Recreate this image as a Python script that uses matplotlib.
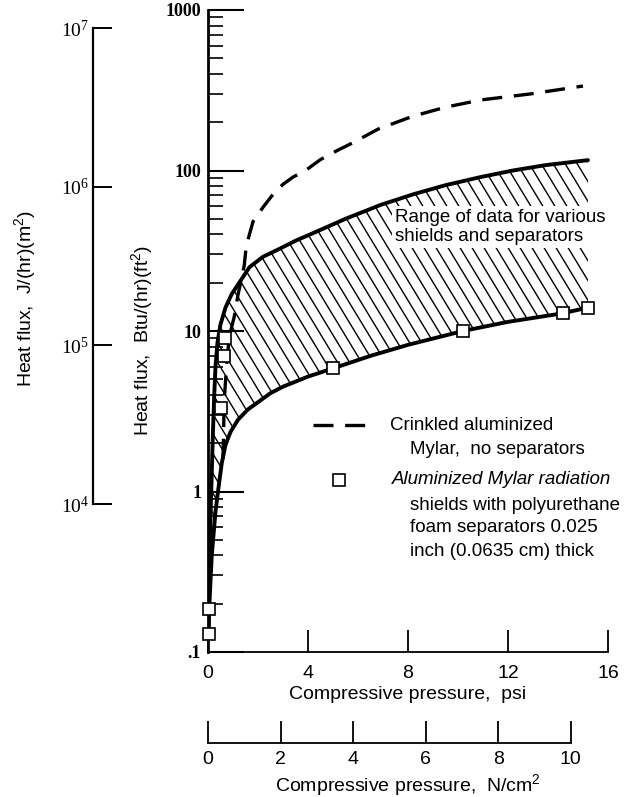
import numpy as np
import matplotlib
matplotlib.use("Agg")
import matplotlib.pyplot as plt
from matplotlib.lines import Line2D

plt.rcParams['font.family'] = ['Liberation Sans Narrow', 'Liberation Sans', 'DejaVu Sans']

# upper edge of the hatched band (psi, Btu/(hr)(ft2))
upper_psi = [0.02, 0.05, 0.1, 0.15, 0.2, 0.25, 0.3, 0.38, 0.5, 0.7, 0.95, 1.25, 1.66, 2.2, 2.86,
             3.5, 4.2, 5.5, 6.9, 8.2, 9.5, 10.9, 12.2, 13.5, 15.2]
upper_flux = [0.13, 0.3, 0.7, 1.3, 2.4, 4.0, 6.0, 8.5, 11.0, 14.0, 17.0, 20.0, 25.0, 29.0, 32.5,
              36.5, 40.7, 50.0, 61.0, 71.0, 81.0, 91.0, 100.0, 108.0, 116.0]

# lower edge of the hatched band
lower_psi = [0.02, 0.05, 0.15, 0.3, 0.4, 0.55, 0.7, 0.9, 1.2, 1.6, 2.0, 2.5, 3.0, 4.0, 5.0,
             6.5, 8.0, 10.2, 12.0, 14.2, 15.2]
lower_flux = [0.13, 0.19, 0.4, 0.75, 1.0, 1.5, 1.95, 2.35, 2.8, 3.25, 3.6, 4.1, 4.5, 5.2, 5.85,
              7.0, 8.2, 10.0, 11.4, 12.9, 14.0]

# crinkled aluminized Mylar, no separators (dashed)
crinkled_psi = [0.6, 0.65, 0.75, 0.85, 1.05, 1.2, 1.45, 1.53, 1.8, 2.2, 2.6, 3.0, 3.4, 3.9,
                4.5, 5.2, 5.8, 6.8, 8.2, 9.5, 10.9, 12.9, 15.0]
crinkled_flux = [1.6, 3.7, 6.3, 9.2, 12.3, 16.8, 25.6, 33.9, 48.0, 59.0, 71.0, 82.0, 91.0, 100.0,
                 117.0, 134.0, 149.0, 181.0, 218.0, 248.0, 275.0, 300.0, 336.0]

# aluminized Mylar shields with polyurethane foam separators (squares)
foam_psi = [0.02, 0.05, 0.52, 0.64, 0.68, 5.0, 10.2, 14.2, 15.2]
foam_flux = [0.13, 0.186, 3.3, 7.0, 9.1, 5.85, 10.0, 12.9, 14.0]

psi_ticks = [0, 4, 8, 12, 16]
ncm_ticks = [0, 2, 4, 6, 8, 10]
btu_ticks = [0.1, 1, 10, 100, 1000]
btu_labels = ['.1', '1', '10', '100', '1000']
j_ticks = [1e4, 1e5, 1e6, 1e7]
j_labels = [r'$\mathregular{10^4}$', r'$\mathregular{10^5}$', r'$\mathregular{10^6}$', r'$\mathregular{10^7}$']

PSI_TO_NCM = 0.689476  # N/cm2 per psi

W, H = 632, 797
fig = plt.figure(figsize=(W / 100, H / 100), dpi=100)


def fx(px):
    return px / W


def fy(py):
    return 1 - py / H


ax_l, ax_r, ax_t, ax_b = 208, 608, 10, 652
ax = fig.add_axes([fx(ax_l), fy(ax_b), (ax_r - ax_l) / W, (ax_b - ax_t) / H])
ax.set_yscale('log')
ax.set_xlim(0, 16)
ax.set_ylim(0.1, 1000)

# hatched band
band_x = np.r_[upper_psi, lower_psi[::-1]]
band_y = np.r_[upper_flux, lower_flux[::-1]]
band = ax.fill(band_x, band_y, facecolor='none', edgecolor='none')[0]
drop = (ax_b - ax_t) / 1.65 / (ax_r - ax_l)
for x0 in np.arange(-1.2, 1.05, 0.03):
    hl = ax.plot([x0, x0 + drop], [1, 0], transform=ax.transAxes, color='black', lw=1.0)[0]
    hl.set_clip_path(band)

ax.plot(upper_psi, upper_flux, color='black', lw=2.8, solid_capstyle='round')
ax.plot(lower_psi, lower_flux, color='black', lw=2.8, solid_capstyle='round')
ax.plot(crinkled_psi, crinkled_flux, color='black', lw=2.4, dashes=(6, 3.5))
ax.plot(foam_psi, foam_flux, ls='none', marker='s', ms=9, mfc='white', mec='black', mew=1.2,
        clip_on=False, zorder=5)

ax.text(fx(395), fy(227), 'Range of data for various\nshields and separators',
        transform=fig.transFigure, fontsize=13.5, va='center', ha='left', linespacing=1.2,
        bbox=dict(facecolor='white', edgecolor='none', pad=2), zorder=6)

for s in ['top', 'right']:
    ax.spines[s].set_visible(False)
ax.spines['left'].set_linewidth(2.0)
ax.spines['bottom'].set_linewidth(1.3)

ax.set_xticks(psi_ticks)
ax.set_xticklabels([str(t) for t in psi_ticks])
ax.tick_params(axis='x', direction='in', length=16, width=1.3, pad=9, labelsize=14)
ax.set_yticks(btu_ticks)
ax.set_yticklabels(btu_labels, fontfamily='Liberation Serif', fontweight='bold')
ax.tick_params(axis='y', which='major', direction='in', length=26, width=1.5, pad=5, labelsize=13)
ax.tick_params(axis='y', which='minor', direction='in', length=11, width=1.2)
ax.set_xlabel('Compressive pressure,  psi', fontsize=14, labelpad=3)

# second pressure scale, N/cm2
axn = fig.add_axes([fx(ax_l), fy(743), (ax_r - ax_l) / W, 0.02])
axn.set_xlim(0, 16 * PSI_TO_NCM)
axn.set_ylim(0, 1)
for s in ['top', 'right', 'left']:
    axn.spines[s].set_visible(False)
axn.spines['bottom'].set_bounds(0, 10)
axn.spines['bottom'].set_linewidth(1.3)
axn.set_yticks([])
axn.set_xticks(ncm_ticks)
axn.set_xticklabels([str(t) for t in ncm_ticks])
axn.tick_params(axis='x', direction='in', length=16, width=1.3, pad=6, labelsize=14)
axn.set_xlabel(r'Compressive pressure,  N/cm$\mathregular{^2}$', fontsize=14, labelpad=3)
axn.patch.set_visible(False)

# heat flux scale in J/(hr)(m2)
axj = fig.add_axes([fx(93), fy(504), 0.05, (504 - 28) / H])
axj.set_yscale('log')
axj.set_ylim(1e4, 1e7)
for s in ['top', 'right', 'bottom']:
    axj.spines[s].set_visible(False)
axj.spines['left'].set_linewidth(1.6)
axj.set_xticks([])
axj.set_yticks(j_ticks)
axj.set_yticklabels(j_labels, fontfamily='Liberation Serif')
axj.yaxis.set_minor_locator(plt.NullLocator())
axj.tick_params(axis='y', direction='in', length=14, width=1.4, pad=3, labelsize=14)
axj.patch.set_visible(False)

fig.text(fx(25), fy(298), r'Heat flux,  J/(hr)(m$\mathregular{^2}$)', rotation=90,
         fontsize=14, ha='center', va='center')
fig.text(fx(142), fy(340), r'Heat flux,  Btu/(hr)(ft$\mathregular{^2}$)', rotation=90,
         fontsize=14, ha='center', va='center')

# legend
fig.add_artist(Line2D([fx(313), fx(370)], [fy(425), fy(425)], color='black', lw=2.4, dashes=(6, 3.5)))
fig.add_artist(Line2D([fx(339)], [fy(480)], ls='none', marker='s', ms=9, mfc='white',
                      mec='black', mew=1.2))
fig.text(fx(390), fy(426), 'Crinkled aluminized', fontsize=13.5, va='center')
fig.text(fx(410), fy(449), 'Mylar,  no separators', fontsize=13.5, va='center')
fig.text(fx(392), fy(480), 'Aluminized Mylar radiation', fontsize=13.5, va='center', style='italic')
fig.text(fx(410), fy(505), 'shields with polyurethane', fontsize=13.5, va='center')
fig.text(fx(410), fy(528), 'foam separators 0.025', fontsize=13.5, va='center')
fig.text(fx(410), fy(552), 'inch (0.0635 cm) thick', fontsize=13.5, va='center')

fig.savefig('out.png', dpi=100)
